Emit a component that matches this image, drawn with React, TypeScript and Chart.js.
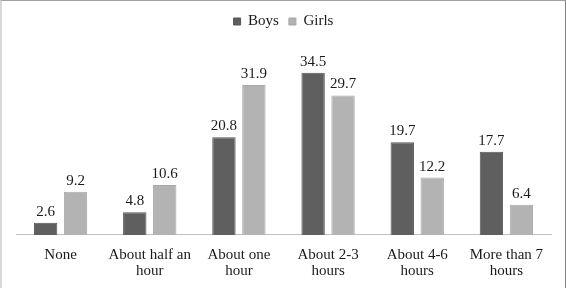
import React, { useEffect, useRef } from "react";
import { Chart, registerables } from "chart.js";

Chart.register(...registerables);

const categories: string[][] = [
  ["None"],
  ["About half an", "hour"],
  ["About one", "hour"],
  ["About 2-3", "hours"],
  ["About 4-6", "hours"],
  ["More than 7", "hours"],
];
const boys = [2.6, 4.8, 20.8, 34.5, 19.7, 17.7];
const girls = [9.2, 10.6, 31.9, 29.7, 12.2, 6.4];

const FONT = "Liberation Serif";

const labelPlugin = {
  id: "valueLabels",
  beforeInit(chart: any) {
    const lg = chart.legend;
    if (lg) {
      const orig = lg.fit;
      lg.fit = function () {
        orig.call(this);
        this.height += 8;
      };
    }
  },
  afterDatasetsDraw(chart: any) {
    const ctx = chart.ctx;
    ctx.save();
    ctx.font = `15px "${FONT}"`;
    ctx.fillStyle = "#1a1a1a";
    ctx.textAlign = "center";
    ctx.textBaseline = "alphabetic";
    chart.data.datasets.forEach((ds: any, i: number) => {
      const meta = chart.getDatasetMeta(i);
      meta.data.forEach((bar: any, j: number) => {
        ctx.fillText(Number(ds.data[j]).toFixed(1), bar.x, bar.y - 7);
      });
    });
    ctx.restore();
  },
};

export default function App() {
  const ref = useRef<HTMLCanvasElement>(null);
  useEffect(() => {
    if (!ref.current) return;
    const chart = new Chart(ref.current, {
      type: "bar",
      data: {
        labels: categories,
        datasets: [
          {
            label: "Boys",
            data: boys,
            backgroundColor: "#5f5f5f",
            borderColor: "#555555",
            borderWidth: 1,
            categoryPercentage: 0.672,
            barPercentage: 0.78,
          },
          {
            label: "Girls",
            data: girls,
            backgroundColor: "#b3b3b3",
            borderColor: "#a8a8a8",
            borderWidth: 1,
            categoryPercentage: 0.672,
            barPercentage: 0.78,
          },
        ],
      },
      options: {
        responsive: false,
        animation: false,
        layout: { padding: { left: 14, right: 14, top: 3, bottom: -3 } },
        plugins: {
          legend: {
            display: true,
            position: "top",
            labels: {
              boxWidth: 7,
              boxHeight: 7,
              padding: 10,
              color: "#1a1a1a",
              font: { family: FONT, size: 15 },
            },
          },
          tooltip: { enabled: false },
        },
        scales: {
          x: {
            grid: { display: false, drawTicks: false },
            border: { display: true, color: "#c0c0c0", width: 1 },
            ticks: {
              color: "#1a1a1a",
              font: { family: FONT, size: 15, lineHeight: 1.07 },
              padding: 12,
              maxRotation: 0,
              autoSkip: false,
            },
          },
          y: { display: false, min: 0, max: 40 },
        },
      },
      plugins: [labelPlugin],
    });
    return () => chart.destroy();
  }, []);
  return (
    <div
      style={{
        position: "fixed",
        left: 0,
        top: 0,
        width: 566,
        height: 288,
        boxSizing: "border-box",
        borderTop: "1px solid #a0a0a0",
        borderLeft: "2px solid #d8d8d8",
        borderRight: "1px solid #808080",
        background: "#fff",
      }}
    >
      <canvas ref={ref} width={563} height={287} style={{ display: "block" }} />
    </div>
  );
}
